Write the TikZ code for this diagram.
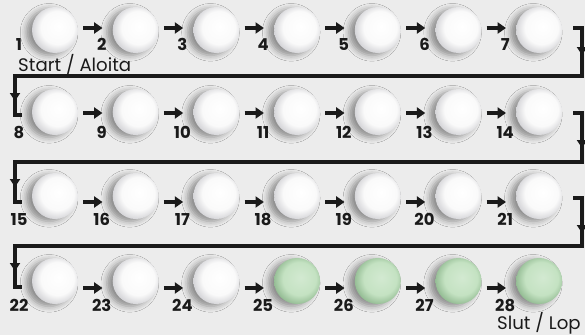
\documentclass[tikz,border=0pt]{standalone}
\usepackage{fontspec}
\setmainfont{Poppins}
\usetikzlibrary{arrows.meta,shadows.blur,decorations.markings}
\definecolor{bg}{RGB}{236,236,236}
\definecolor{ink}{RGB}{26,26,26}
\definecolor{rimgray}{RGB}{206,206,210}
\definecolor{mintin}{RGB}{196,226,194}
\definecolor{mintout}{RGB}{140,182,140}
\pgfdeclareradialshading{pillwhite}{\pgfpoint{4bp}{4bp}}{color(0bp)=(white); color(18bp)=(white!96!gray); color(29bp)=(rimgray); color(50bp)=(rimgray)}
\pgfdeclareradialshading{pillgreen}{\pgfpoint{4bp}{4bp}}{color(0bp)=(mintin!75!white); color(18bp)=(mintin); color(29bp)=(mintout); color(50bp)=(mintout)}

\begin{document}
\begin{tikzpicture}[
    x=0.03cm, y=-0.03cm,
    pill/.style={circle, minimum size=1.38cm, inner sep=0pt, blur shadow={shadow xshift=-5pt, shadow yshift=-2pt, shadow blur radius=5pt, shadow opacity=40}},
    num/.style={anchor=base, inner sep=0pt, text=ink, font=\bfseries\fontsize{14}{14}\selectfont},
    caption/.style={anchor=base west, inner sep=0pt, text=ink, font=\fontsize{15.5}{17}\selectfont},
    flow/.style={-{Triangle[length=0.25cm,width=0.33cm]}, draw=ink, line width=0.1cm, shorten <=0.15cm, shorten >=0.3cm},
    wrap/.style={color=ink, draw, line width=0.1cm, line join=miter}
  ]
    \useasboundingbox (0,0) rectangle (585,335);
    \fill[bg] (0,0) rectangle (585,335);
    % pills and their numbers
    \foreach \r/\yc/\yb in {0/30/50, 1/112/138, 2/196/225, 3/281/311} {
      \foreach \c in {0,...,6} {
        \pgfmathtruncatemacro\n{7*\r+\c+1}
        \pgfmathsetmacro\x{55+80.7*\c}
        \pgfmathsetmacro\nx{\c==0 ? 19 : \x-34}
        \ifnum\n>24 \def\shade{pillgreen}\else\def\shade{pillwhite}\fi
        \node[pill, shading=\shade] (p\n) at (\x,\yc) {};
        \node[num] (n\n) at (\nx,\yb) {\n};
      }
    }
    % arrows inside each row
    \foreach \r/\ya in {0/28, 1/113, 2/202, 3/288} {
      \foreach \c in {1,...,6} {
        \pgfmathtruncatemacro\n{7*\r+\c+1}
        \pgfmathtruncatemacro\m{\n-1}
        \draw[flow] (p\m.east |- 0,\ya) -- (p\n.west |- 0,\ya);
      }
    }
    % turns from one row to the next
    \foreach \r/\yt/\yh/\yl/\rt in {1/28/76/115/27, 2/113/162/202/35, 3/198/246/287/35} {
      \pgfmathsetmacro\rpos{(9+\rt)*0.03}
      \pgfmathsetmacro\lpos{(9+\yh-\yt+567+25)*0.03}
      \coordinate (turn\r a) at (573,\yt);
      \coordinate (turn\r b) at (22,\yl);
      \draw[wrap, postaction={decorate, decoration={markings,
          mark=at position \rpos cm with {\arrow{Triangle[length=0.24cm,width=0.3cm]}},
          mark=at position \lpos cm with {\arrow{Triangle[length=0.24cm,width=0.3cm]}}}}]
        (turn\r a) -- (582,\yt) -- (582,\yh) -- (15,\yh) -- (15,\yl) -- (turn\r b);
    }
    \node[caption] (start) at (18,71) {Start / Aloita};
    \node[caption] (finish) at (497,329) {Slut / Lop};
  \end{tikzpicture}
\end{document}
